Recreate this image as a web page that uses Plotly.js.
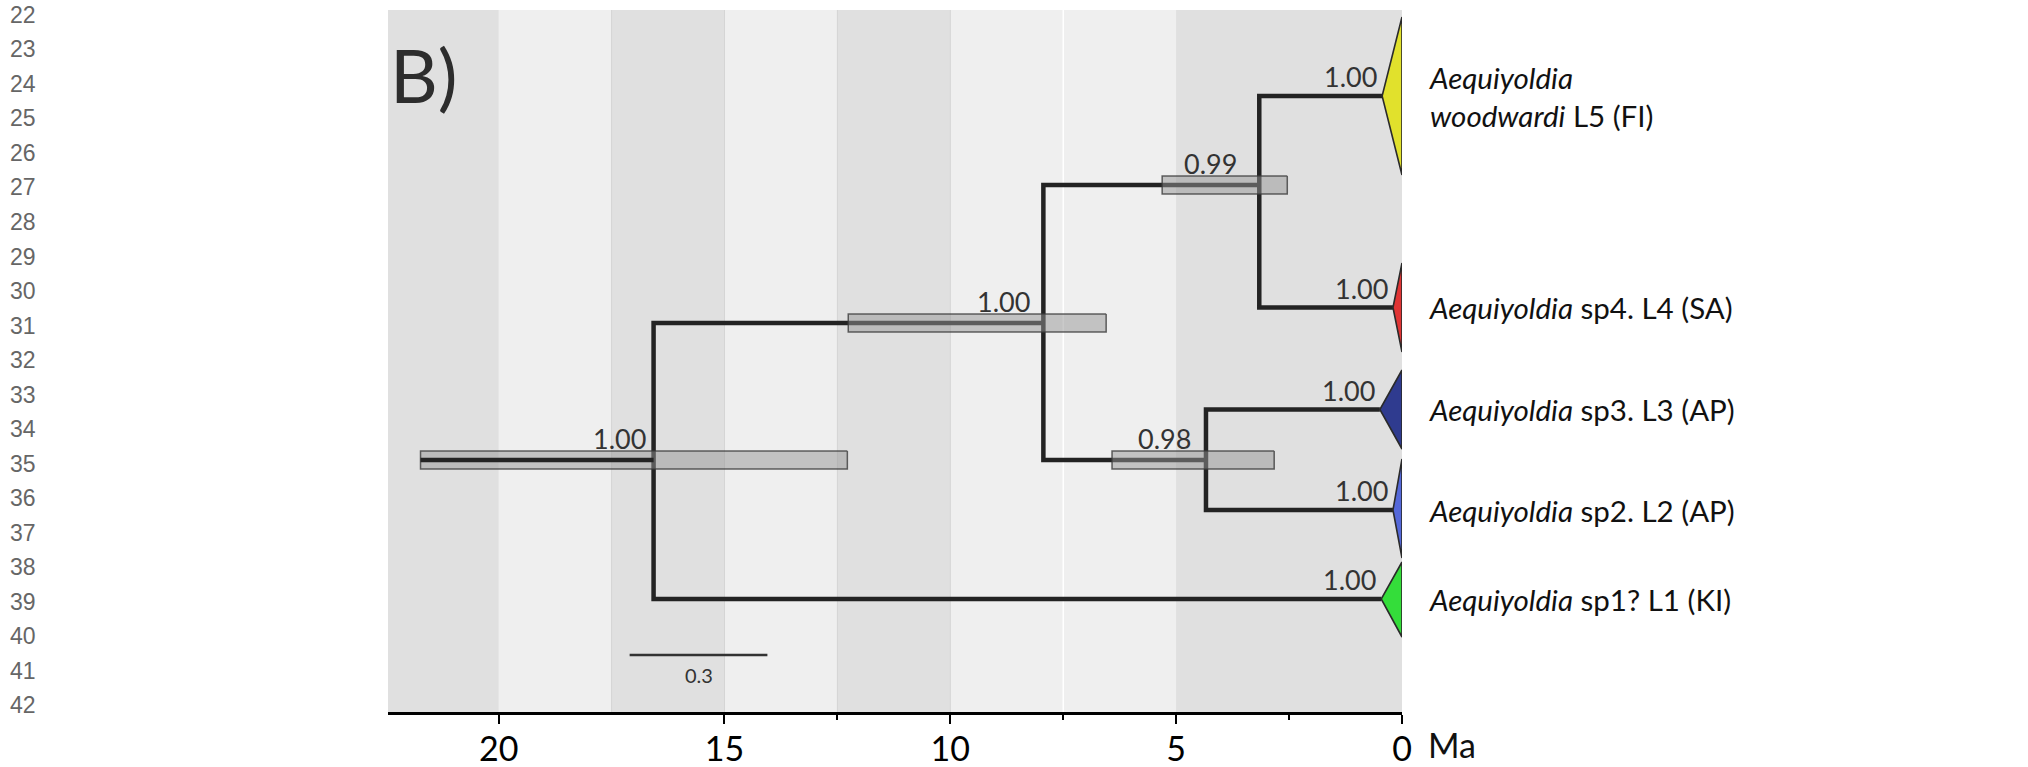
<!DOCTYPE html>
<html><head><meta charset="utf-8">
<script src="https://cdn.plot.ly/plotly-3.0.1.min.js"></script>
<style>html,body{margin:0;padding:0;background:#fff}#chart{width:2028px;height:767px}</style>
</head><body><div id="chart"></div>
<script>
// ---- internal nodes (age in Ma, vertical row position) ----
const nodeNames     = ['root', 'A', 'B', 'C'];
const nodeAge       = [16.57, 7.94, 3.16, 4.34];
const nodeRow       = [4.50, 3.13, 1.75, 4.50];
const nodeParent    = [null, 'root', 'A', 'A'];
const nodePosterior = ['1.00', '1.00', '0.99', '0.98'];
const hpdLow        = [12.28, 6.55, 2.54, 2.83];
const hpdHigh       = [21.73, 12.26, 5.31, 6.42];
const rootStemStart = 21.73;

// ---- collapsed tips ----
const tipLabels = [
  '<i>Aequiyoldia</i><br><i>woodwardi</i> L5 (FI)',
  '<i>Aequiyoldia</i> sp4. L4 (SA)',
  '<i>Aequiyoldia</i> sp3. L3 (AP)',
  '<i>Aequiyoldia</i> sp2. L2 (AP)',
  '<i>Aequiyoldia</i> sp1? L1 (KI)'
];
const tipRow         = [0.86, 2.975, 3.995, 5.00, 5.89];
const tipApexAge     = [0.44, 0.20, 0.49, 0.20, 0.46];
const tipCladeTop    = [0.07, 2.53, 3.60, 4.49, 5.52];
const tipCladeBottom = [1.65, 3.42, 4.39, 5.48, 6.27];
const tipParent      = ['B', 'B', 'C', 'C', 'root'];
const tipPosterior   = ['1.00', '1.00', '1.00', '1.00', '1.00'];
const tipColors      = ['#e1e12c', '#e03434', '#2f3b8f', '#5468d9', '#34dd3a'];

// ---- time bands & axis ----
const bandEdges = [22.5, 20, 17.5, 15, 12.5, 10, 7.5, 5, 0];
const bandShade = ['dark', 'light', 'dark', 'light', 'dark', 'light', 'light', 'dark'];
const bandSeparators = [17.5, 15, 12.5, 10];
const whiteSeparators = [7.5];
const minorTicks = [2.5, 7.5, 12.5];
const tickLabelVals = [0, 5, 10, 15, 20];
const tickLabelText = ['0', '5', '10', '15', '20'];

// ---- scale bar ----
const scaleBarAge = [17.10, 14.05];
const scaleBarRow = 6.45;
const scaleBarLabel = '0.3';

// ---- manuscript line numbers ----
const lineNumbers = [22,23,24,25,26,27,28,29,30,31,32,33,34,35,36,37,38,39,40,41,42];

// style-only offsets of the posterior labels (px)
const nodeLabelShift = [-6, -11, -20, -13];

const FONT = 'Lato, "Open Sans", sans-serif';
const LINE = '#232323';
const idx = n => nodeNames.indexOf(n);

// tree elbows
const tx = [], ty = [];
nodeNames.forEach((n, i) => {
  const p = nodeParent[i];
  if (p === null) return;
  const j = idx(p);
  tx.push(nodeAge[j], nodeAge[j], nodeAge[i], null);
  ty.push(nodeRow[j], nodeRow[i], nodeRow[i], null);
});
tipParent.forEach((p, i) => {
  const j = idx(p);
  tx.push(nodeAge[j], nodeAge[j], tipApexAge[i], null);
  ty.push(nodeRow[j], tipRow[i], tipRow[i], null);
});

const traces = [];
traces.push({x: tx, y: ty, mode: 'lines', line: {color: LINE, width: 4.5}, hoverinfo: 'skip', showlegend: false});

// clade triangles
tipRow.forEach((r, i) => {
  traces.push({
    x: [0, tipApexAge[i], 0, 0], y: [tipCladeTop[i], r, tipCladeBottom[i], tipCladeTop[i]],
    mode: 'lines', fill: 'toself', fillcolor: tipColors[i],
    line: {color: '#2a2a2a', width: 1.6}, hoverinfo: 'skip', showlegend: false
  });
});

// HPD bars
const barHalf = 0.09;
nodeNames.forEach((n, i) => {
  const r = nodeRow[i];
  traces.push({
    x: [hpdLow[i], hpdHigh[i], hpdHigh[i], hpdLow[i], hpdLow[i]],
    y: [r - barHalf, r - barHalf, r + barHalf, r + barHalf, r - barHalf],
    mode: 'lines', fill: 'toself', fillcolor: 'rgba(150,150,150,0.5)',
    line: {color: 'rgba(60,60,60,0.8)', width: 1.5}, hoverinfo: 'skip', showlegend: false
  });
});

// root stem
traces.push({x: [rootStemStart, nodeAge[0]], y: [nodeRow[0], nodeRow[0]], mode: 'lines',
  line: {color: LINE, width: 4.5}, hoverinfo: 'skip', showlegend: false});

// scale bar
traces.push({x: scaleBarAge, y: [scaleBarRow, scaleBarRow], mode: 'lines',
  line: {color: '#333', width: 2.5}, hoverinfo: 'skip', showlegend: false});

// shapes: bands
const shapes = [];
for (let i = 0; i < bandShade.length; i++) {
  shapes.push({type: 'rect', xref: 'x', yref: 'paper', x0: bandEdges[i], x1: bandEdges[i + 1], y0: 0, y1: 1,
    fillcolor: bandShade[i] === 'dark' ? '#e0e0e0' : '#efefef', line: {width: 0}, layer: 'below'});
}
bandSeparators.forEach(v => shapes.push({type: 'line', xref: 'x', yref: 'paper', x0: v, x1: v, y0: 0, y1: 1,
  line: {color: '#d5d5d5', width: 1}, layer: 'below'}));
whiteSeparators.forEach(v => shapes.push({type: 'line', xref: 'x', yref: 'paper', x0: v, x1: v, y0: 0, y1: 1,
  line: {color: '#ffffff', width: 1.5}, layer: 'below'}));

// annotations
const ann = [];
nodeNames.forEach((n, i) => ann.push({x: nodeAge[i], y: nodeRow[i], xref: 'x', yref: 'y', text: nodePosterior[i],
  showarrow: false, xanchor: 'right', yanchor: 'bottom', xshift: nodeLabelShift[i], yshift: 3,
  font: {family: FONT, size: 27, color: '#333'}}));
tipRow.forEach((r, i) => {
  ann.push({x: tipApexAge[i], y: r, xref: 'x', yref: 'y', text: tipPosterior[i], showarrow: false,
    xanchor: 'right', yanchor: 'bottom', xshift: -3, yshift: 1, font: {family: FONT, size: 27, color: '#333'}});
  ann.push({x: 1, xref: 'paper', y: r, yref: 'y', text: tipLabels[i], showarrow: false, xanchor: 'left',
    yanchor: 'middle', align: 'left', xshift: 25, font: {family: FONT, size: 29.5, color: '#111'}});
});
ann.push({x: (scaleBarAge[0] + scaleBarAge[1]) / 2, y: scaleBarRow, xref: 'x', yref: 'y', text: scaleBarLabel,
  showarrow: false, yanchor: 'top', yshift: -6, font: {family: FONT, size: 20, color: '#333'}});
ann.push({x: 0, xref: 'paper', y: 1, yref: 'paper', text: 'B)', showarrow: false, xanchor: 'left', yanchor: 'top',
  xshift: 0, yshift: -18, font: {family: FONT, size: 74, color: '#2d2d2d'}});
ann.push({x: 1, xref: 'paper', y: 0, yref: 'paper', text: 'Ma', showarrow: false, xanchor: 'left', yanchor: 'top',
  xshift: 24, yshift: -10, font: {family: FONT, size: 34, color: '#111'}});
lineNumbers.forEach((n, i) => {
  const py = 15 + i * 34.5;
  ann.push({x: 0, xref: 'paper', xanchor: 'left', xshift: -380, y: (712 - py) / 702, yref: 'paper', yanchor: 'middle',
    text: String(n), showarrow: false, font: {family: '"Liberation Sans", Arial, sans-serif', size: 23, color: '#666'}});
});

const layout = {
  width: 2028, height: 767,
  margin: {l: 388, r: 626, t: 10, b: 55, pad: 0},
  paper_bgcolor: '#ffffff', plot_bgcolor: '#e0e0e0',
  showlegend: false,
  xaxis: {
    range: [22.45, 0], showgrid: false, zeroline: false,
    showline: true, linecolor: '#000', linewidth: 3,
    ticks: 'outside', ticklen: 9, tickwidth: 2, tickcolor: '#000',
    tickvals: tickLabelVals, ticktext: tickLabelText, ticklabelstandoff: -4,
    tickfont: {family: FONT, size: 34, color: '#000'},
    minor: {tickvals: minorTicks, ticks: 'outside', ticklen: 5, tickwidth: 2, tickcolor: '#000', showgrid: false},
    fixedrange: true
  },
  yaxis: {range: [7.02, 0], visible: false, showgrid: false, zeroline: false, fixedrange: true},
  shapes: shapes,
  annotations: ann
};

Plotly.newPlot('chart', traces, layout, {displayModeBar: false, staticPlot: true});
</script></body></html>
